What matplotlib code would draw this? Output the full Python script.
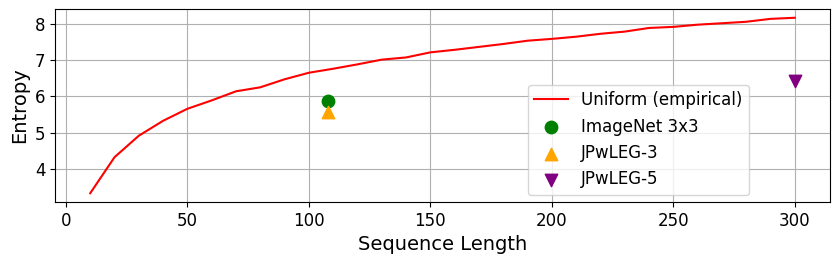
import matplotlib
matplotlib.use("Agg")
import matplotlib.pyplot as plt
from matplotlib.ticker import MultipleLocator

seq_len = [10, 20, 30, 40, 50, 60, 70, 80, 90, 100, 110, 120, 130, 140, 150,
           160, 170, 180, 190, 200, 210, 220, 230, 240, 250, 260, 270, 280, 290, 300]
uniform_entropy = [3.34, 4.33, 4.92, 5.33, 5.66, 5.89, 6.14, 6.25, 6.47, 6.65,
                   6.76, 6.88, 7.01, 7.07, 7.21, 7.28, 7.36, 7.44, 7.53, 7.58,
                   7.64, 7.72, 7.78, 7.88, 7.91, 7.97, 8.01, 8.05, 8.13, 8.16]
imagenet_x, imagenet_y = [108], [5.87]
jp3_x, jp3_y = [108], [5.57]
jp5_x, jp5_y = [300], [6.42]

fig = plt.figure(figsize=(8.39, 2.64), dpi=100)
ax = fig.add_axes([55/839, 1 - 202/264, 775/839, 193/264])
ax.plot(seq_len, uniform_entropy, color="red", label="Uniform (empirical)")
ax.scatter(imagenet_x, imagenet_y, color="green", marker="o", s=80, label="ImageNet 3x3", zorder=3)
ax.scatter(jp3_x, jp3_y, color="orange", marker="^", s=80, label="JPwLEG-3", zorder=3)
ax.scatter(jp5_x, jp5_y, color="purple", marker="v", s=80, label="JPwLEG-5", zorder=3)
ax.yaxis.set_major_locator(MultipleLocator(1))
ax.grid(True)
ax.set_xlabel("Sequence Length", fontsize=14)
ax.set_ylabel("Entropy", fontsize=14)
ax.tick_params(labelsize=12)
ax.legend(fontsize=12, loc="lower right", bbox_to_anchor=(694/775, 7/193), borderaxespad=0)
fig.savefig("out.png", dpi=100)
